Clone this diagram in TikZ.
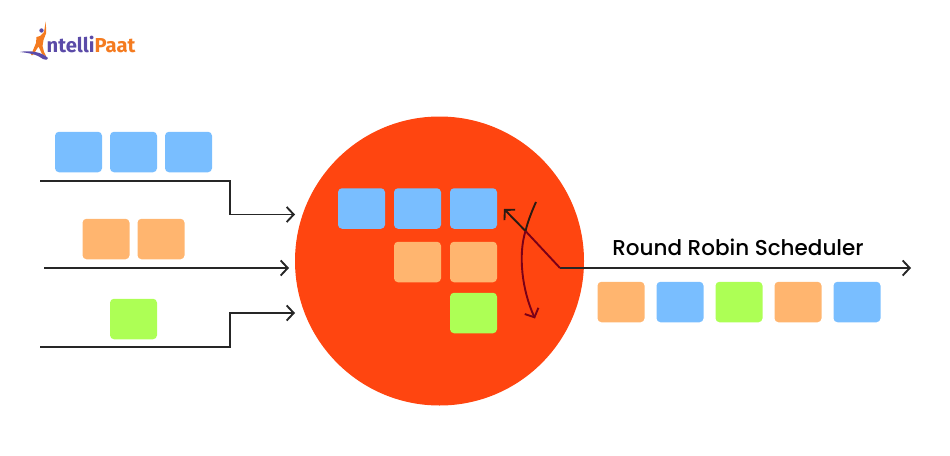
\documentclass[tikz,border=0pt]{standalone}
\usepackage{fontspec}
\setmainfont{Poppins}
\newfontfamily\labelfont{Poppins Medium}
\newfontfamily\logofont{Fira Sans}
\usepackage{xcolor}
\usetikzlibrary{positioning, arrows.meta}
\definecolor{cpu red}{HTML}{FF4510}
\definecolor{job blue}{HTML}{79BEFF}
\definecolor{job orange}{HTML}{FFB56F}
\definecolor{job green}{HTML}{ADFF55}
\definecolor{logo purple}{HTML}{5B4BA8}
\definecolor{logo orange}{HTML}{F47B20}
\definecolor{swing red}{HTML}{7A0018}
\definecolor{swing dark}{HTML}{2A1A12}

\begin{document}
\begin{tikzpicture}[x=1pt, y=-1pt, node distance=56pt,
	job node/.style={rectangle, rounded corners=4pt, minimum width=47pt, minimum height=40.5pt, inner sep=0pt},
	blue job/.style={job node, fill=job blue},
	orange job/.style={job node, fill=job orange},
	green job/.style={job node, fill=job green},
	flow/.style={draw=black!85, line width=1.9pt, -{Straight Barb[length=7pt, width=15pt, line width=1.9pt]}}]
	
	\useasboundingbox (0,0) rectangle (950,455);
	
	% Logo
	\node[font=\logofont\bfseries\fontsize{20.2pt}{20.2pt}\selectfont, text=logo purple, inner sep=0pt, anchor=base west] (logo) at (46.5,52) {ntelli\textcolor{logo orange}{Paat}};
	\fill[logo orange] (45.8,21.5) -- (46.2,33) -- (43.5,40) -- (42.5,46) -- (44,52) -- (46,56) -- (42,54) -- (38.5,46.5) -- (33,55) -- (31,55) -- (36,43) -- (36.5,37) -- (40,36) -- (44,32) -- cycle;
	\fill[logo purple] (41.5,30.5) circle (2.2pt);
	\fill[logo purple] (20,52) .. controls (30,50) and (42,52) .. (48,58) .. controls (48.5,60) and (46,60) .. (43,59) .. controls (38,55) and (30,53) .. cycle;
	
	% Nodes
	\node[circle, fill=cpu red, minimum size=289pt, inner sep=0pt] (cpu) at (439.5,261) {};
	
	\node[blue job] (Q1) at (78.5,152) {};
	\node[blue job, right of=Q1, node distance=55pt] (Q2) {};
	\node[blue job, right of=Q2, node distance=55pt] (Q3) {};
	\node[orange job] (Q4) at (106,239) {};
	\node[orange job, right of=Q4, node distance=55pt] (Q5) {};
	\node[green job] (Q6) at (133.5,319) {};
	
	\node[blue job] (C1) at (361.5,208.5) {};
	\node[blue job, right of=C1] (C2) {};
	\node[blue job, right of=C2] (C3) {};
	\node[orange job, below of=C2, node distance=53.5pt] (C4) {};
	\node[orange job, right of=C4] (C5) {};
	\node[green job, below of=C5, node distance=51pt] (C6) {};
	
	\node[orange job] (D1) at (621,302) {};
	\node[blue job, right of=D1, node distance=59pt] (D2) {};
	\node[green job, right of=D2, node distance=59pt] (D3) {};
	\node[orange job, right of=D3, node distance=59pt] (D4) {};
	\node[blue job, right of=D4, node distance=59pt] (D5) {};
	
	\node[font=\labelfont\fontsize{21.5pt}{21.5pt}\selectfont, text=black] (title) at (738,247) {Round Robin Scheduler};
	
	% Ends of the lines
	\coordinate (in1) at (40,181);
	\coordinate (in1 bend) at (230,181);
	\coordinate (in1 down) at (230,214.5);
	\coordinate (in1 end) at (295,214.5);
	\coordinate (in2) at (44,268);
	\coordinate (in2 end) at (289,268);
	\coordinate (in3) at (40,347);
	\coordinate (in3 bend) at (230,347);
	\coordinate (in3 up) at (230,313);
	\coordinate (in3 end) at (295,313);
	\coordinate (turn) at (560,268);
	\coordinate (out end) at (911,268);
	\coordinate (back) at (504,209);
	\coordinate (cross) at (525.5,231);
	\coordinate (swing top) at (536,202);
	\coordinate (swing end) at (535,318.5);
	
	% Edges (connections)
	\draw[flow] (in1) -- (in1 bend) -- (in1 down) -- (in1 end);
	\draw[flow] (in2) -- (in2 end);
	\draw[flow] (in3) -- (in3 bend) -- (in3 up) -- (in3 end);
	\draw[flow] (turn) -- (out end);
	\draw[flow, draw=swing dark] (cross) -- (back);
	\draw[draw=swing red, line width=1.9pt] (turn) -- (cross);
	\draw[draw=swing dark, line width=1.9pt] (swing top) .. controls (531.5,212) and (528,221) .. (cross);
	\draw[flow, draw=swing red] (cross) .. controls (518,255) and (522,290) .. (swing end);
\end{tikzpicture}
\end{document}
